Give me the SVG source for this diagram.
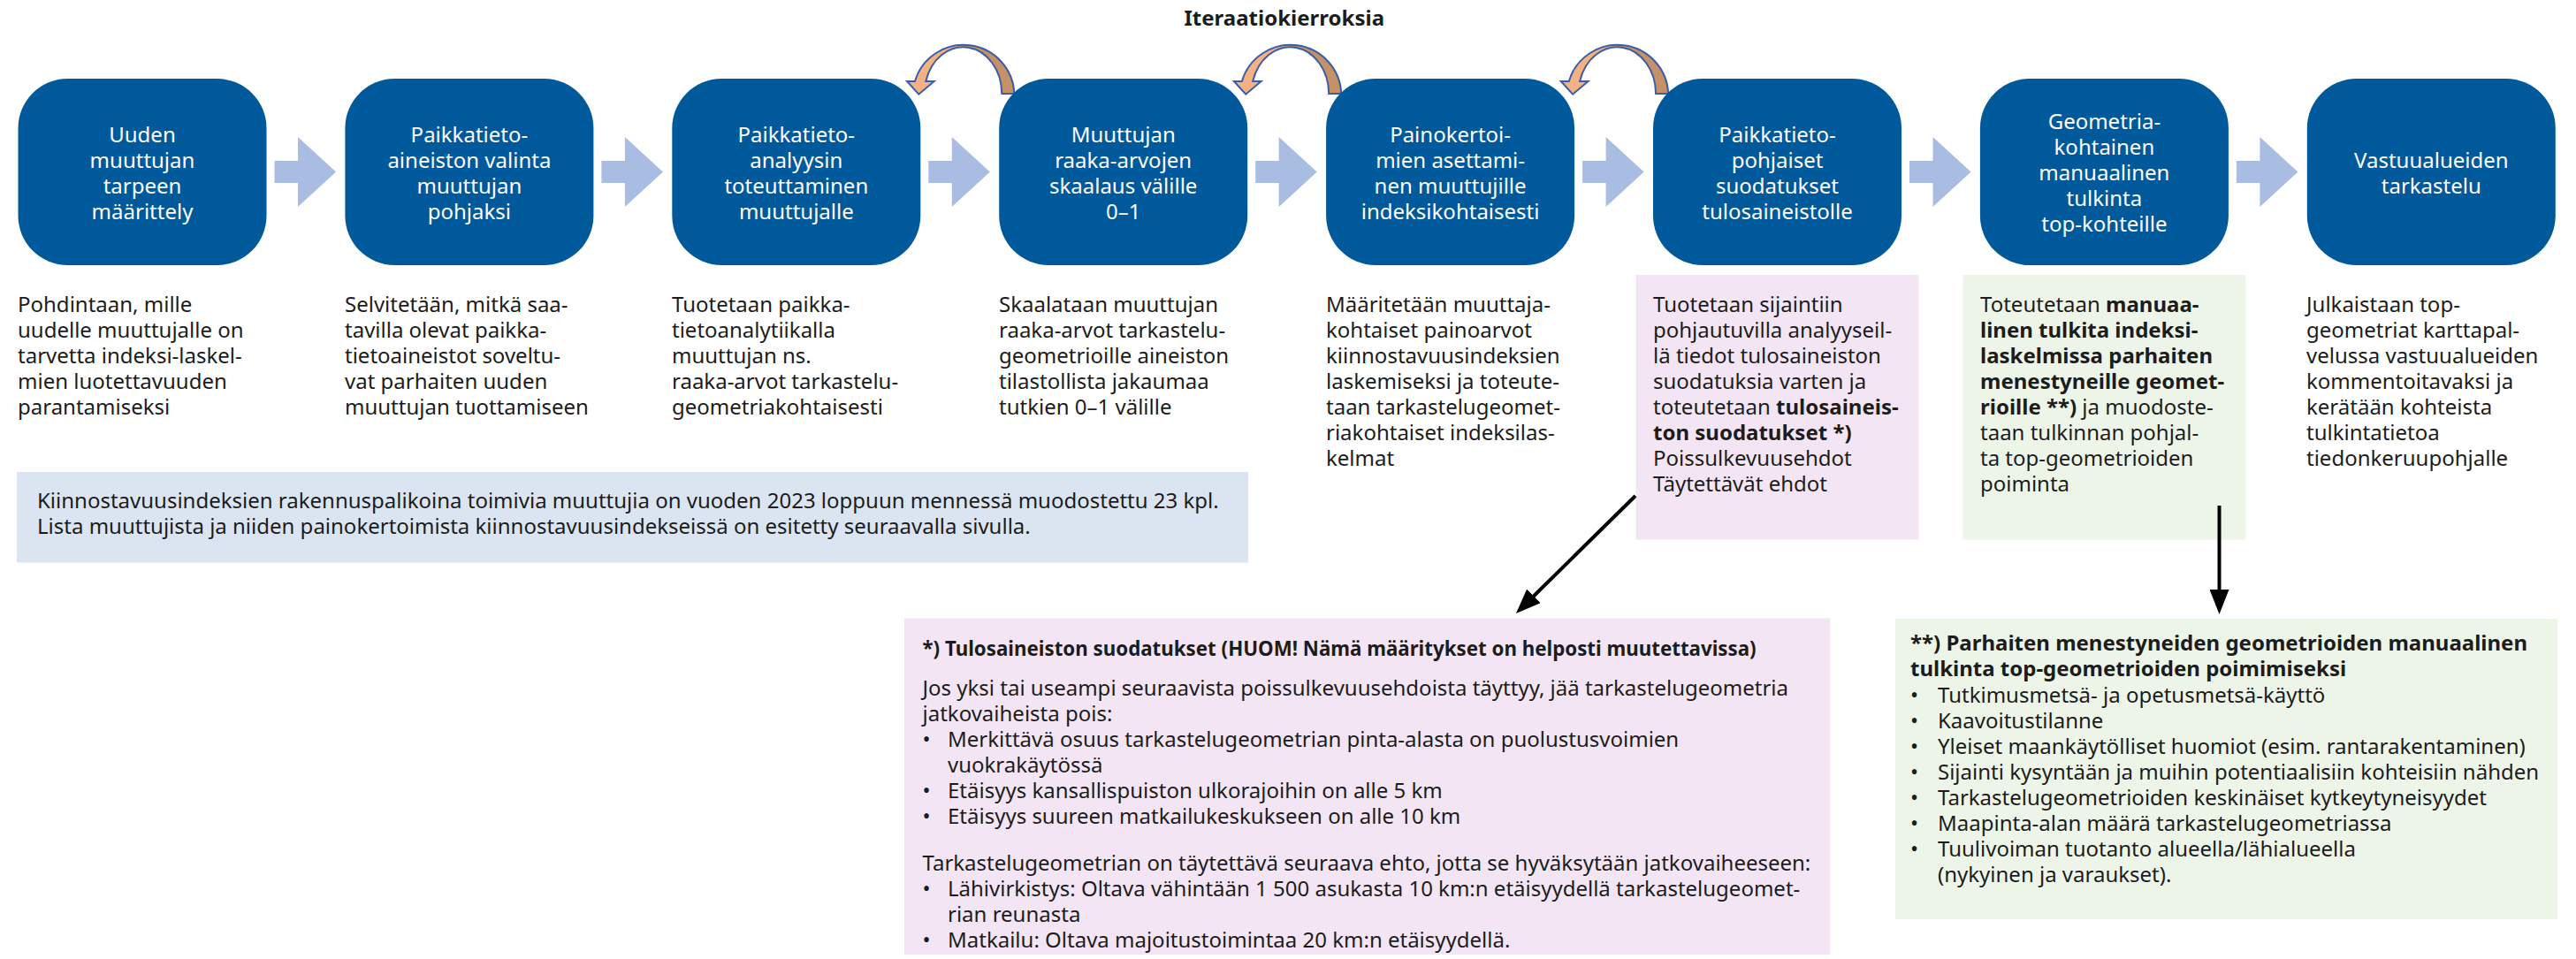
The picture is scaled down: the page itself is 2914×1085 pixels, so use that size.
<svg xmlns="http://www.w3.org/2000/svg" xmlns:xlink="http://www.w3.org/1999/xlink" width="2914" height="1085" viewBox="0 0 2914 1085">
<style>
text{font-family:"Noto Sans","Liberation Sans",sans-serif;font-size:24px;fill:#1c1c1c}
.box{fill:#00599b}
.bt{fill:#ffffff;text-anchor:middle}
.b{font-weight:bold}
.blk{fill:#a9bce1}
.iter{fill:url(#gIter);stroke:#3b5da8;stroke-width:2;stroke-linejoin:miter}
.con{stroke:#000;stroke-width:4;fill:none;marker-end:url(#ah)}
</style>
<defs>
<linearGradient id="gIter" x1="0" y1="0" x2="1" y2="0">
<stop offset="0" stop-color="#f4b183"/><stop offset="0.52" stop-color="#f4b183"/>
<stop offset="0.52" stop-color="#c59166"/><stop offset="1" stop-color="#c59166"/>
</linearGradient>
<path id="blkArrow" class="blk" d="M0,182 H26.5 V155 L69.5,194.5 L26.5,234 V207 H0 Z"/>
<path id="iterArrow" class="iter" d="M1147.3,106 A57.3,57 0 0 0 1035,92 L1026,92 L1039.3,106.7 L1056.7,92 L1047.3,92 A43.8,53 0 0 1 1133.3,106 Z"/>
<marker id="ah" markerUnits="userSpaceOnUse" markerWidth="28" markerHeight="22" refX="18" refY="11" orient="auto" viewBox="0 0 28 22">
<path d="M0,0 L28,11 L0,22 Z" fill="#000"/>
</marker>
</defs>
<rect width="2914" height="1085" fill="#ffffff"/>

<text class="b" x="1452.8" y="29" text-anchor="middle" font-size="21">Iteraatiokierroksia</text>

<g id="iteration-arrows">
<use xlink:href="#iterArrow"/>
<use xlink:href="#iterArrow" transform="translate(369.9,0)"/>
<use xlink:href="#iterArrow" transform="translate(739.8,0)"/>
</g>

<g id="connectors">
<use xlink:href="#blkArrow" x="310.5"/>
<use xlink:href="#blkArrow" x="680.4"/>
<use xlink:href="#blkArrow" x="1050.3"/>
<use xlink:href="#blkArrow" x="1420.2"/>
<use xlink:href="#blkArrow" x="1790.1"/>
<use xlink:href="#blkArrow" x="2160"/>
<use xlink:href="#blkArrow" x="2529.9"/>
</g>

<g id="n1"><rect class="box" x="20.5" y="89" width="281" height="211" rx="56" ry="56"/>
<text class="bt"><tspan x="161" y="160.5">Uuden</tspan><tspan x="161" y="189.5">muuttujan</tspan><tspan x="161" y="218.5">tarpeen</tspan><tspan x="161" y="247.5">määrittely</tspan></text></g>
<g id="n2"><rect class="box" x="390.4" y="89" width="281" height="211" rx="56" ry="56"/>
<text class="bt"><tspan x="530.9" y="160.5">Paikkatieto-</tspan><tspan x="530.9" y="189.5">aineiston valinta</tspan><tspan x="530.9" y="218.5">muuttujan</tspan><tspan x="530.9" y="247.5">pohjaksi</tspan></text></g>
<g id="n3"><rect class="box" x="760.3" y="89" width="281" height="211" rx="56" ry="56"/>
<text class="bt"><tspan x="900.8" y="160.5">Paikkatieto-</tspan><tspan x="900.8" y="189.5">analyysin</tspan><tspan x="900.8" y="218.5">toteuttaminen</tspan><tspan x="900.8" y="247.5">muuttujalle</tspan></text></g>
<g id="n4"><rect class="box" x="1130.2" y="89" width="281" height="211" rx="56" ry="56"/>
<text class="bt"><tspan x="1270.7" y="160.5">Muuttujan</tspan><tspan x="1270.7" y="189.5">raaka-arvojen</tspan><tspan x="1270.7" y="218.5">skaalaus välille</tspan><tspan x="1270.7" y="247.5">0–1</tspan></text></g>
<g id="n5"><rect class="box" x="1500.1" y="89" width="281" height="211" rx="56" ry="56"/>
<text class="bt"><tspan x="1640.6" y="160.5">Painokertoi-</tspan><tspan x="1640.6" y="189.5">mien asettami-</tspan><tspan x="1640.6" y="218.5">nen muuttujille</tspan><tspan x="1640.6" y="247.5">indeksikohtaisesti</tspan></text></g>
<g id="n6"><rect class="box" x="1870" y="89" width="281" height="211" rx="56" ry="56"/>
<text class="bt"><tspan x="2010.5" y="160.5">Paikkatieto-</tspan><tspan x="2010.5" y="189.5">pohjaiset</tspan><tspan x="2010.5" y="218.5">suodatukset</tspan><tspan x="2010.5" y="247.5">tulosaineistolle</tspan></text></g>
<g id="n7"><rect class="box" x="2239.9" y="89" width="281" height="211" rx="56" ry="56"/>
<text class="bt"><tspan x="2380.4" y="146">Geometria-</tspan><tspan x="2380.4" y="175">kohtainen</tspan><tspan x="2380.4" y="204">manuaalinen</tspan><tspan x="2380.4" y="233">tulkinta</tspan><tspan x="2380.4" y="262">top-kohteille</tspan></text></g>
<g id="n8"><rect class="box" x="2609.8" y="89" width="281" height="211" rx="56" ry="56"/>
<text class="bt"><tspan x="2750.3" y="189.5">Vastuualueiden</tspan><tspan x="2750.3" y="218.5">tarkastelu</tspan></text></g>

<g id="d1"><text><tspan x="20" y="353">Pohdintaan, mille</tspan><tspan x="20" y="382">uudelle muuttujalle on</tspan><tspan x="20" y="411">tarvetta indeksi-laskel-</tspan><tspan x="20" y="440">mien luotettavuuden</tspan><tspan x="20" y="469">parantamiseksi</tspan></text></g>
<g id="d2"><text><tspan x="390" y="353">Selvitetään, mitkä saa-</tspan><tspan x="390" y="382">tavilla olevat paikka-</tspan><tspan x="390" y="411">tietoaineistot soveltu-</tspan><tspan x="390" y="440">vat parhaiten uuden</tspan><tspan x="390" y="469">muuttujan tuottamiseen</tspan></text></g>
<g id="d3"><text><tspan x="760" y="353">Tuotetaan paikka-</tspan><tspan x="760" y="382">tietoanalytiikalla</tspan><tspan x="760" y="411">muuttujan ns.</tspan><tspan x="760" y="440">raaka-arvot tarkastelu-</tspan><tspan x="760" y="469">geometriakohtaisesti</tspan></text></g>
<g id="d4"><text><tspan x="1130" y="353">Skaalataan muuttujan</tspan><tspan x="1130" y="382">raaka-arvot tarkastelu-</tspan><tspan x="1130" y="411">geometrioille aineiston</tspan><tspan x="1130" y="440">tilastollista jakaumaa</tspan><tspan x="1130" y="469">tutkien 0–1 välille</tspan></text></g>
<g id="d5"><text><tspan x="1500" y="353">Määritetään muuttaja-</tspan><tspan x="1500" y="382">kohtaiset painoarvot</tspan><tspan x="1500" y="411">kiinnostavuusindeksien</tspan><tspan x="1500" y="440">laskemiseksi ja toteute-</tspan><tspan x="1500" y="469">taan tarkastelugeomet-</tspan><tspan x="1500" y="498">riakohtaiset indeksilas-</tspan><tspan x="1500" y="527">kelmat</tspan></text></g>
<g id="d6"><rect x="1850.5" y="311" width="320" height="299.5" fill="#f3e5f3"/>
<text><tspan x="1870" y="353">Tuotetaan sijaintiin</tspan><tspan x="1870" y="382">pohjautuvilla analyyseil-</tspan><tspan x="1870" y="411">lä tiedot tulosaineiston</tspan><tspan x="1870" y="440">suodatuksia varten ja</tspan><tspan x="1870" y="469">toteutetaan <tspan class="b">tulosaineis-</tspan></tspan><tspan x="1870" y="498" class="b">ton suodatukset *)</tspan><tspan x="1870" y="527">Poissulkevuusehdot</tspan><tspan x="1870" y="556">Täytettävät ehdot</tspan></text></g>
<g id="d7"><rect x="2220.5" y="311" width="320" height="299.5" fill="#edf5e9"/>
<text><tspan x="2240" y="353">Toteutetaan <tspan class="b">manuaa-</tspan></tspan><tspan x="2240" y="382" class="b">linen tulkita indeksi-</tspan><tspan x="2240" y="411" class="b">laskelmissa parhaiten</tspan><tspan x="2240" y="440" class="b">menestyneille geomet-</tspan><tspan x="2240" y="469"><tspan class="b">rioille **)</tspan> ja muodoste-</tspan><tspan x="2240" y="498">taan tulkinnan pohjal-</tspan><tspan x="2240" y="527">ta top-geometrioiden</tspan><tspan x="2240" y="556">poiminta</tspan></text></g>
<g id="d8"><text><tspan x="2609" y="353">Julkaistaan top-</tspan><tspan x="2609" y="382">geometriat karttapal-</tspan><tspan x="2609" y="411">velussa vastuualueiden</tspan><tspan x="2609" y="440">kommentoitavaksi ja</tspan><tspan x="2609" y="469">kerätään kohteista</tspan><tspan x="2609" y="498">tulkintatietoa</tspan><tspan x="2609" y="527">tiedonkeruupohjalle</tspan></text></g>

<g id="banner"><rect x="19" y="534" width="1393" height="102.5" fill="#dbe5f1"/>
<text><tspan x="42" y="575">Kiinnostavuusindeksien rakennuspalikoina toimivia muuttujia on vuoden 2023 loppuun mennessä muodostettu 23 kpl.</tspan><tspan x="42" y="604">Lista muuttujista ja niiden painokertoimista kiinnostavuusindekseissä on esitetty seuraavalla sivulla.</tspan></text></g>

<g id="filters"><rect x="1023" y="699.5" width="1047" height="380.5" fill="#f3e5f3"/>
<text><tspan x="1043.5" y="742" class="b" font-size="22.3">*) Tulosaineiston suodatukset (HUOM! Nämä määritykset on helposti muutettavissa)</tspan>
<tspan x="1043.5" y="787">Jos yksi tai useampi seuraavista poissulkevuusehdoista täyttyy, jää tarkastelugeometria</tspan>
<tspan x="1043.5" y="816">jatkovaiheista pois:</tspan>
<tspan x="1043.5" y="845">•</tspan><tspan x="1072" y="845">Merkittävä osuus tarkastelugeometrian pinta-alasta on puolustusvoimien</tspan>
<tspan x="1072" y="874">vuokrakäytössä</tspan>
<tspan x="1043.5" y="903">•</tspan><tspan x="1072" y="903">Etäisyys kansallispuiston ulkorajoihin on alle 5 km</tspan>
<tspan x="1043.5" y="932">•</tspan><tspan x="1072" y="932">Etäisyys suureen matkailukeskukseen on alle 10 km</tspan>
<tspan x="1043.5" y="985">Tarkastelugeometrian on täytettävä seuraava ehto, jotta se hyväksytään jatkovaiheeseen:</tspan>
<tspan x="1043.5" y="1014">•</tspan><tspan x="1072" y="1014">Lähivirkistys: Oltava vähintään 1 500 asukasta 10 km:n etäisyydellä tarkastelugeomet-</tspan>
<tspan x="1072" y="1043">rian reunasta</tspan>
<tspan x="1043.5" y="1072">•</tspan><tspan x="1072" y="1072">Matkailu: Oltava majoitustoimintaa 20 km:n etäisyydellä.</tspan></text></g>

<g id="interpretation"><rect x="2144" y="700" width="749" height="340" fill="#edf5e9"/>
<text><tspan x="2161" y="736" class="b">**) Parhaiten menestyneiden geometrioiden manuaalinen</tspan>
<tspan x="2161" y="765" class="b">tulkinta top-geometrioiden poimimiseksi</tspan>
<tspan x="2161" y="795">•</tspan><tspan x="2192" y="795">Tutkimusmetsä- ja opetusmetsä-käyttö</tspan>
<tspan x="2161" y="824">•</tspan><tspan x="2192" y="824">Kaavoitustilanne</tspan>
<tspan x="2161" y="853">•</tspan><tspan x="2192" y="853">Yleiset maankäytölliset huomiot (esim. rantarakentaminen)</tspan>
<tspan x="2161" y="882">•</tspan><tspan x="2192" y="882">Sijainti kysyntään ja muihin potentiaalisiin kohteisiin nähden</tspan>
<tspan x="2161" y="911">•</tspan><tspan x="2192" y="911">Tarkastelugeometrioiden keskinäiset kytkeytyneisyydet</tspan>
<tspan x="2161" y="940">•</tspan><tspan x="2192" y="940">Maapinta-alan määrä tarkastelugeometriassa</tspan>
<tspan x="2161" y="969">•</tspan><tspan x="2192" y="969">Tuulivoiman tuotanto alueella/lähialueella</tspan>
<tspan x="2192" y="998">(nykyinen ja varaukset).</tspan></text></g>

<g id="pointer-connectors">
<line class="con" x1="1850" y1="561" x2="1722.1" y2="687"/>
<line class="con" x1="2510.5" y1="572" x2="2510.5" y2="685"/>
</g>
</svg>
